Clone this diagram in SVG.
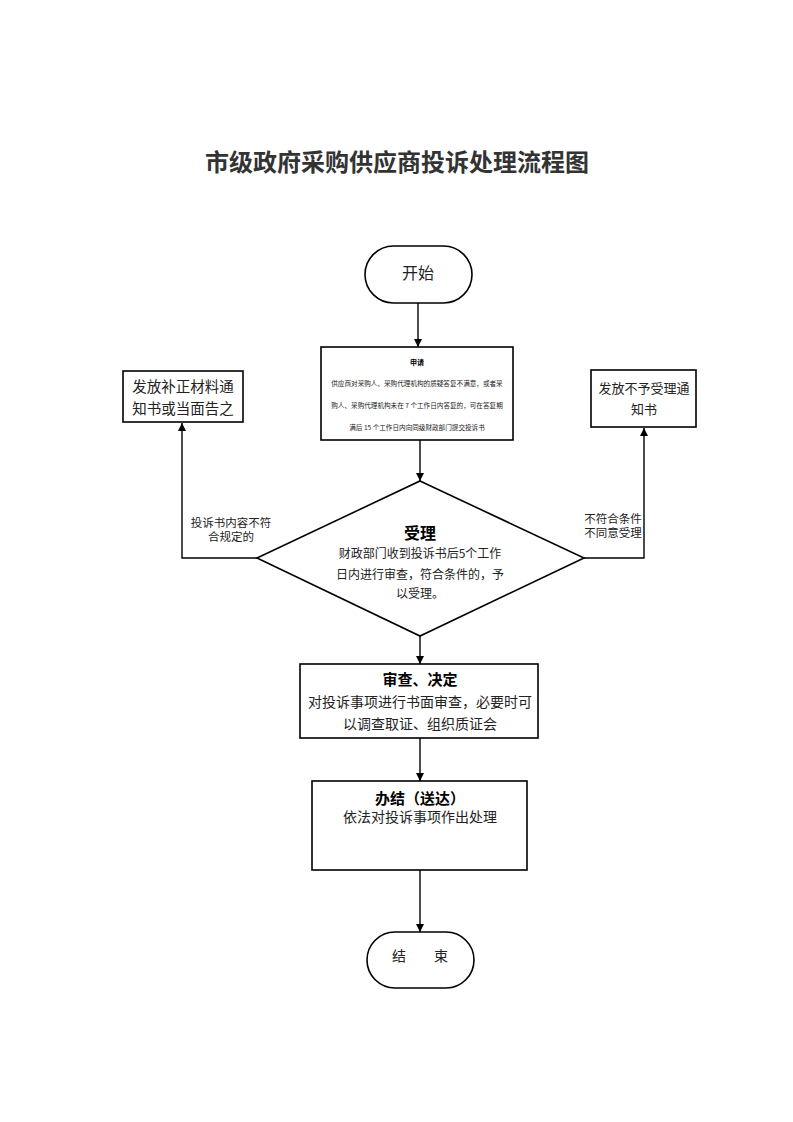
<svg xmlns="http://www.w3.org/2000/svg" width="793" height="1122" viewBox="0 0 793 1122">
<defs>
<marker id="ah" viewBox="0 0 10 10" refX="10" refY="5" markerWidth="8" markerHeight="8" markerUnits="userSpaceOnUse" orient="auto">
<path d="M0,0 L10,5 L0,10 z" fill="#000"/>
</marker>
<style>
.shape{fill:#fff;stroke:#000;stroke-width:1.6}
.line{fill:none;stroke:#000;stroke-width:1.4}
text{font-family:"Noto Sans CJK SC","Liberation Serif",sans-serif;fill:#222;text-anchor:middle}
.title{font-size:24px;font-weight:bold;fill:#333}
.b{font-weight:bold;fill:#000}
.lbl{font-size:11.5px}
</style>
</defs>
<rect width="793" height="1122" fill="#fff"/>
<text class="title" x="397" y="171">市级政府采购供应商投诉处理流程图</text>

<g id="connectors">
<line class="line" x1="418" y1="303" x2="418" y2="347" marker-end="url(#ah)"/>
<line class="line" x1="420" y1="440" x2="420" y2="481" marker-end="url(#ah)"/>
<polyline class="line" points="258,558 182,558 182,423" marker-end="url(#ah)"/>
<polyline class="line" points="584,558 644,558 644,428" marker-end="url(#ah)"/>
<line class="line" x1="420" y1="636" x2="420" y2="664" marker-end="url(#ah)"/>
<line class="line" x1="420" y1="738" x2="420" y2="781" marker-end="url(#ah)"/>
<line class="line" x1="420" y1="870" x2="420" y2="932" marker-end="url(#ah)"/>
<text class="lbl" x="231" y="527">投诉书内容不符</text>
<text class="lbl" x="231" y="541">合规定的</text>
<text class="lbl" x="613" y="523">不符合条件</text>
<text class="lbl" x="613" y="537">不同意受理</text>
</g>

<g id="start">
<rect class="shape" x="365" y="246" width="107" height="57" rx="28.5"/>
<text x="418" y="279" font-size="16" fill="#000">开始</text>
</g>

<g id="apply">
<rect class="shape" x="321" y="347" width="192" height="93"/>
<text class="b" x="417" y="365" font-size="7">申请</text>
<text x="417" y="386" font-size="6.6">供应商对采购人、采购代理机构的质疑答复不满意，或者采</text>
<text x="417" y="408" font-size="6.6">购人、采购代理机构未在 7 个工作日内答复的，可在答复期</text>
<text x="417" y="430" font-size="6.6">满后 15 个工作日内向同级财政部门提交投诉书</text>
</g>

<g id="supplement">
<rect class="shape" x="123" y="371" width="120" height="51"/>
<text x="183" y="392" font-size="14.5">发放补正材料通</text>
<text x="183" y="414" font-size="14.5">知书或当面告之</text>
</g>

<g id="reject">
<rect class="shape" x="591" y="370" width="105" height="57"/>
<text x="644" y="393" font-size="13">发放不予受理通</text>
<text x="644" y="414" font-size="13">知书</text>
</g>

<g id="accept">
<polygon class="shape" points="420,481 584,558 420,636 257,558"/>
<text class="b" x="420" y="539" font-size="16">受理</text>
<text x="420" y="558" font-size="12">财政部门收到投诉书后5个工作</text>
<text x="420" y="579" font-size="12">日内进行审查，符合条件的，予</text>
<text x="420" y="598" font-size="12">以受理。</text>
</g>

<g id="review">
<rect class="shape" x="300" y="664" width="238" height="74"/>
<text class="b" x="420" y="685" font-size="15">审查、决定</text>
<text x="420" y="707" font-size="14">对投诉事项进行书面审查，必要时可</text>
<text x="420" y="729" font-size="14">以调查取证、组织质证会</text>
</g>

<g id="finish">
<rect class="shape" x="312" y="781" width="215" height="89"/>
<text class="b" x="420" y="804" font-size="15">办结（送达）</text>
<text x="420" y="822" font-size="14">依法对投诉事项作出处理</text>
</g>

<g id="end">
<rect class="shape" x="367" y="932" width="107" height="56" rx="28"/>
<text x="420" y="961" font-size="14" xml:space="preserve">结　　束</text>
</g>
</svg>
